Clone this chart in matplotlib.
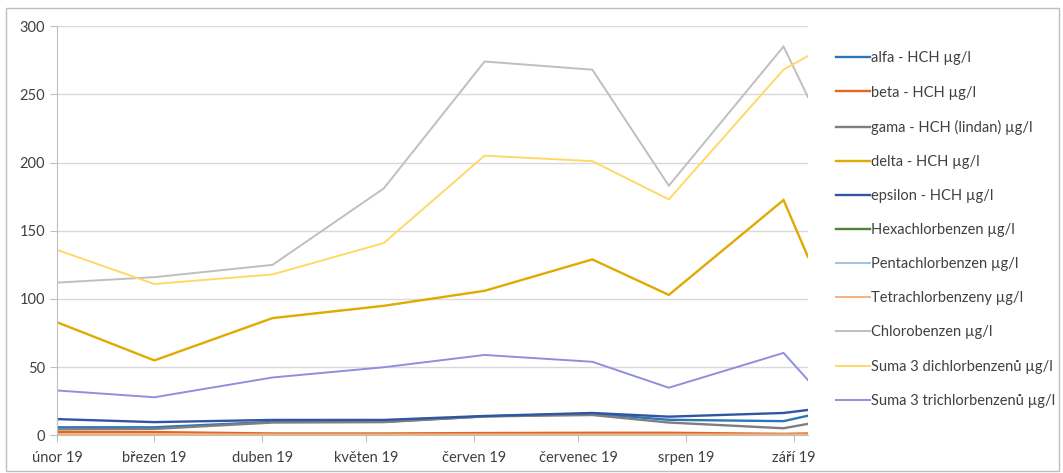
import numpy as np
import matplotlib
matplotlib.use("Agg")
import matplotlib.pyplot as plt
import matplotlib.dates as mdates
from matplotlib.patches import Rectangle
from datetime import date

plt.rcParams['font.family'] = ['Lato', 'DejaVu Sans']

# sampling dates (Excel date axis)
dates = [date(2019, 2, 1), date(2019, 3, 1), date(2019, 4, 4), date(2019, 5, 6),
         date(2019, 6, 4), date(2019, 7, 5), date(2019, 7, 27), date(2019, 8, 29),
         date(2019, 9, 5)]

alfa = [6, 6, 10, 10, 14, 16, 11.5, 10.5, 14.5]
beta = [2.5, 2.5, 1.5, 1.5, 1.8, 2, 2, 1.2, 1.5]
gama = [4.5, 4.8, 9.5, 9.8, 14, 15, 9.5, 5.3, 8.5]
delta = [83, 55, 86, 95, 106, 129, 103, 172.5, 131]
epsilon = [12, 9.8, 11.4, 11.4, 14.3, 16.5, 13.8, 16.5, 18.7]
hexa = [0.1, 0.1, 0.1, 0.1, 0.1, 0.1, 0.1, 0.1, 0.1]
penta = [0.1, 0.1, 0.1, 0.1, 0.1, 0.1, 0.1, 0.1, 0.1]
tetra = [1, 1, 0.8, 0.8, 0.8, 0.8, 0.8, 0.8, 0.8]
chloro = [112, 116, 125, 181, 274, 268, 183, 285, 248]
dichlor = [136, 111, 118, 141, 205, 201, 173, 268, 278]
trichlor = [33, 28, 42.5, 50, 59, 54, 35, 60.5, 40.7]

names = ["alfa - HCH µg/l", "beta - HCH µg/l", "gama - HCH (lindan) µg/l",
         "delta - HCH µg/l", "epsilon - HCH µg/l", "Hexachlorbenzen µg/l",
         "Pentachlorbenzen µg/l", "Tetrachlorbenzeny µg/l", "Chlorobenzen µg/l",
         "Suma 3 dichlorbenzenů µg/l", "Suma 3 trichlorbenzenů µg/l"]
series = [alfa, beta, gama, delta, epsilon, hexa, penta, tetra, chloro, dichlor, trichlor]
colors = ["#2E75B6", "#E8661C", "#7F7F7F", "#E0AA00", "#2F55A4", "#548235",
          "#9DC3E6", "#F4B183", "#BFBFBF", "#FFD966", "#8F8FDD"]
widths = [1.7, 1.7, 1.7, 1.7, 1.7, 1.7, 1.4, 1.4, 1.4, 1.4, 1.4]

month_ticks = [date(2019, m, 1) for m in range(2, 10)]
month_labels = ["únor 19", "březen 19", "duben 19", "květen 19", "červen 19",
                "červenec 19", "srpen 19", "září 19"]

fig = plt.figure(figsize=(10.63, 4.73), dpi=100)
ax = fig.add_axes([0.0536, 0.0793, 0.7064, 0.8657])

for vals, name, c, lw in zip(series, names, colors, widths):
    ax.plot(dates, vals, color=c, lw=lw, label=name, solid_joinstyle='miter')

ax.set_xlim(dates[0], dates[-1])
ax.set_ylim(0, 300)
ax.set_yticks(np.arange(0, 301, 50))
ax.set_xticks(month_ticks)
ax.set_xticklabels(month_labels)
ax.grid(axis='y', color='#D9D9D9', lw=1)
ax.set_axisbelow(True)
for s in ['top', 'right']:
    ax.spines[s].set_visible(False)
for s in ['left', 'bottom']:
    ax.spines[s].set_color('#BFBFBF')
ax.tick_params(axis='both', colors='#BFBFBF', labelcolor='#404040', labelsize=10.5, length=5)
ax.tick_params(axis='x', pad=6)

leg = ax.legend(loc='upper left', bbox_to_anchor=(1.02, 0.97), frameon=False,
                fontsize=10.5, handlelength=2.3, handletextpad=0.1, labelspacing=1.38,
                labelcolor='#404040')

fig.patches.append(Rectangle((0.006, 0.005), 0.99, 0.978, transform=fig.transFigure,
                             fill=False, edgecolor='#BFBFBF', lw=1))

fig.savefig("out.png", dpi=100)
